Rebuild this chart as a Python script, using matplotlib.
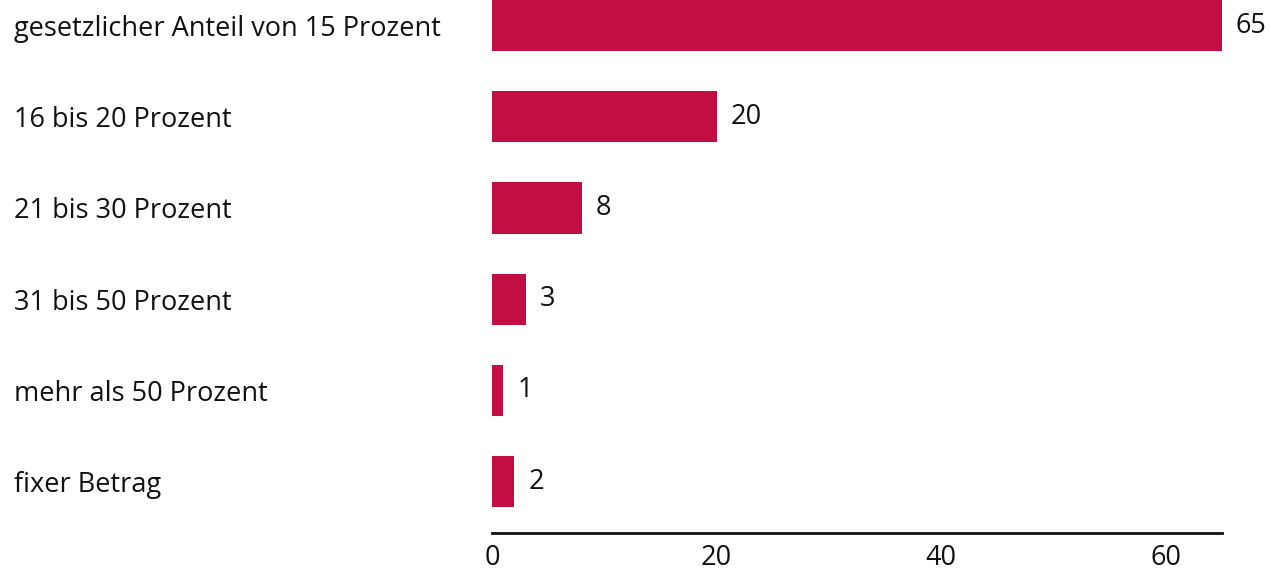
import matplotlib
matplotlib.use("Agg")
import matplotlib.pyplot as plt

# Data
categories = ["gesetzlicher Anteil von 15 Prozent", "16 bis 20 Prozent", "21 bis 30 Prozent",
              "31 bis 50 Prozent", "mehr als 50 Prozent", "fixer Betrag"]
values = [65, 20, 8, 3, 1, 2]
xticks = [0, 20, 40, 60]

plt.rcParams['font.family'] = ['Open Sans', 'DejaVu Sans']
fs = 19.5

fig = plt.figure(figsize=(12.71, 5.73), dpi=100)
ax = fig.add_axes([492 / 1271, (573 - 532.7) / 573, 730 / 1271, 532.7 / 573])

pos = list(range(len(categories)))
bars = ax.barh(pos, values, height=0.56, color="#C20E42")
ax.bar_label(bars, labels=[str(v) for v in values], padding=10, fontsize=fs, color="#111111")

ax.set_xlim(0, 65)
ax.set_ylim(5.56, -0.28)
ax.set_xticks(xticks)
ax.set_xticklabels([str(t) for t in xticks], fontsize=fs, color="#111111")
ax.set_yticks(pos)
ax.set_yticklabels(categories, fontsize=fs, color="#111111", ha="left")
ax.tick_params(axis="y", length=0, pad=344)
ax.tick_params(axis="x", length=0, pad=8)

for s in ["top", "right", "left"]:
    ax.spines[s].set_visible(False)
ax.spines["bottom"].set_linewidth(2)
ax.spines["bottom"].set_color("#111111")

fig.savefig("out.png", dpi=100)
